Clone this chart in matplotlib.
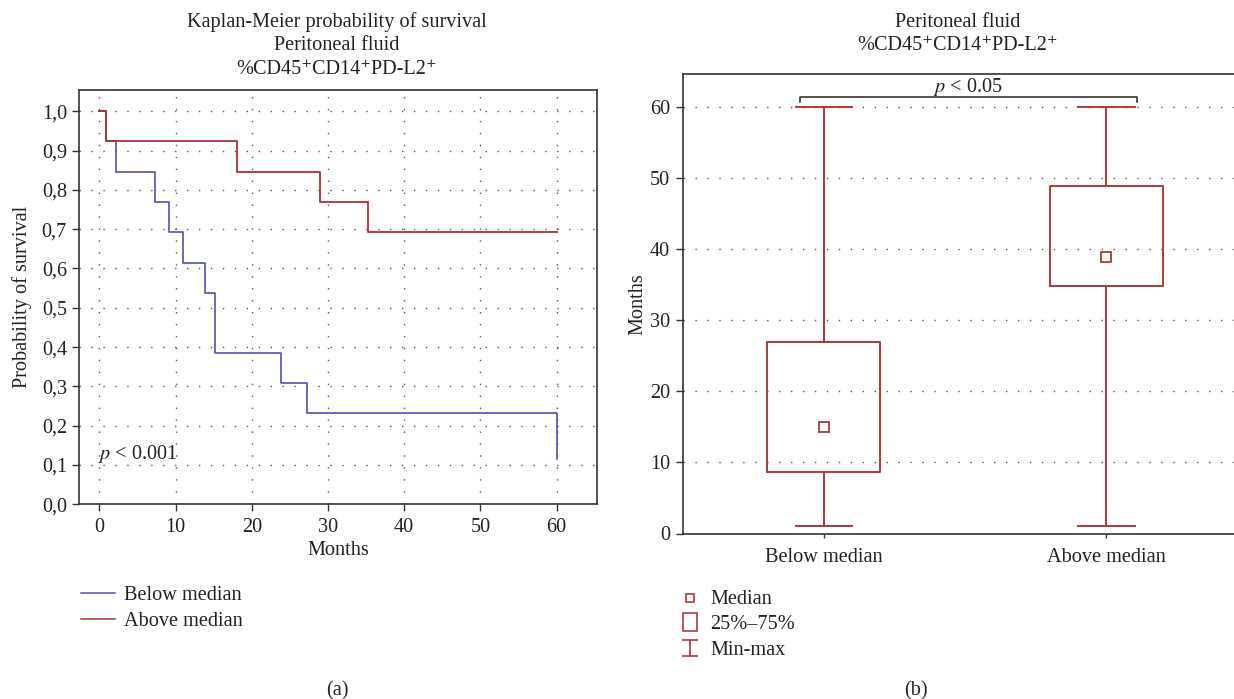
import matplotlib
matplotlib.use("Agg")
import matplotlib.pyplot as plt
from matplotlib.lines import Line2D
from matplotlib.patches import Rectangle
from matplotlib.path import Path

plt.rcParams['font.family'] = ['Liberation Serif', 'DejaVu Serif']
plt.rcParams['lines.scale_dashes'] = False
plt.rcParams['mathtext.fontset'] = 'stix'

# ---------------- data ----------------
km_title = ["Kaplan-Meier probability of survival", "Peritoneal fluid", "%CD45⁺CD14⁺PD-L2⁺"]
box_title = ["Peritoneal fluid", "%CD45⁺CD14⁺PD-L2⁺"]
groups = ["Below median", "Above median"]

time_below = [0, 0.84, 2.2, 7.3, 9.2, 11.0, 13.9, 15.2, 23.9, 27.3, 60]
surv_below = [1.0, 0.923, 0.846, 0.769, 0.692, 0.615, 0.538, 0.385, 0.308, 0.231, 0.115]
time_above = [0, 0.84, 18.0, 29.0, 35.2, 60]
surv_above = [1.0, 0.923, 0.846, 0.769, 0.692, 0.692]

km_xticks = [0, 10, 20, 30, 40, 50, 60]
km_yticks = [0.0, 0.1, 0.2, 0.3, 0.4, 0.5, 0.6, 0.7, 0.8, 0.9, 1.0]
km_yticklabels = ["0,0", "0,1", "0,2", "0,3", "0,4", "0,5", "0,6", "0,7", "0,8", "0,9", "1,0"]

box_min = [1, 1]
box_q1 = [8.7, 34.8]
box_med = [15, 39]
box_q3 = [27, 48.9]
box_max = [60, 60]
box_yticks = [0, 10, 20, 30, 40, 50, 60]

legend_box = ["Median", "25%–75%", "Min-max"]

# ---------------- style ----------------
BLUE = '#4d50b6'
RED = '#a83232'
BOXRED = '#b03a36'
SPINE = '#333333'
TXT = '#222222'
FS = 14.6
W, H = 1234, 699
DY = 2.5  # text vertical offset (px)

fig = plt.figure(figsize=(W / 100, H / 100), dpi=100)

def fx(px):
    return px / W

def fy(py):
    return 1 - py / H

dotted = dict(color='#555555', linestyle=(0, (1, 7.6)), linewidth=1.0)

# ---------------- left: Kaplan-Meier ----------------
ax1 = fig.add_axes([fx(79.5), fy(504.3), fx(597) - fx(79.5), fy(90) - fy(504.3)])
ax1.set_xlim(-2.6, 65.3)
ax1.set_ylim(0, 1.054)
ax1.set_xticks(km_xticks)
ax1.set_yticks(km_yticks)
ax1.set_yticklabels(km_yticklabels)
ax1.grid(True, **dotted)
ax1.set_axisbelow(True)
ax1.step(time_below, surv_below, where='post', color=BLUE, lw=1.2, zorder=3)
ax1.step(time_above, surv_above, where='post', color=RED, lw=1.3, zorder=4)
ax1.tick_params(direction='out', length=5, width=1.0, colors=SPINE, labelsize=FS,
                labelcolor=TXT)
ax1.tick_params(axis='x', pad=5)
ax1.tick_params(axis='y', pad=4)
for s in ax1.spines.values():
    s.set_color(SPINE)
    s.set_linewidth(1.2)
ax1.set_xlabel("Months", fontsize=FS, labelpad=3, color=TXT)
ax1.set_ylabel("Probability of survival", fontsize=FS, labelpad=7, color=TXT)
ax1.text(-0.2, 0.127, r"$p$ < 0.001", fontsize=FS, color=TXT, va='center', ha='left')

for i, line in enumerate(km_title):
    fig.text(fx(337), fy(20 + DY + 23.5 * i), line, ha='center', va='center', fontsize=FS,
             color=TXT)

# left legend
for i, (lab, col) in enumerate(zip(groups, [BLUE, RED])):
    y = 592.5 + 26.5 * i
    fig.add_artist(Line2D([fx(81), fx(115)], [fy(y), fy(y)], color=col, lw=1.1,
                          transform=fig.transFigure))
    fig.text(fx(124), fy(y + DY), lab, ha='left', va='center', fontsize=FS, color=TXT)

# ---------------- right: box plot ----------------
ax2 = fig.add_axes([fx(682.7), fy(533.5), fx(1247.5) - fx(682.7), fy(74) - fy(533.5)])
ax2.set_xlim(-0.5, 1.5)
ax2.set_ylim(0, 64.7)
stats = []
for i in range(len(groups)):
    stats.append(dict(med=box_med[i], q1=box_q1[i], q3=box_q3[i],
                      whislo=box_min[i], whishi=box_max[i], label=groups[i]))
lp = dict(color=BOXRED, linewidth=1.4)
ax2.bxp(stats, positions=[0, 1], widths=0.4, capwidths=0.2, showfliers=False,
        boxprops=lp, whiskerprops=lp, capprops=lp,
        medianprops=dict(linestyle='none'), manage_ticks=False, zorder=3)
ax2.plot([0, 1], box_med, linestyle='none', marker='s', markersize=6.5,
         markerfacecolor='white', markeredgecolor=BOXRED, markeredgewidth=1.3, zorder=4)
ax2.set_xticks([0, 1])
ax2.set_xticklabels(groups)
ax2.set_yticks(box_yticks)
ax2.yaxis.grid(True, **dotted)
ax2.set_axisbelow(True)
ax2.tick_params(axis='y', direction='out', length=5, width=1.0, colors=SPINE,
                labelsize=FS, labelcolor=TXT, pad=4)
ax2.tick_params(axis='x', direction='out', length=3, width=1.0, colors=SPINE,
                labelsize=FS, labelcolor=TXT, pad=7.5)
for s in ax2.spines.values():
    s.set_color(SPINE)
    s.set_linewidth(1.2)
ax2.set_ylabel("Months", fontsize=FS, labelpad=2, color=TXT)

# significance bracket
bx = [-0.086, -0.086, 1.109, 1.109]
by = [60.7, 61.5, 61.5, 60.7]
ax2.plot(bx, by, color='#333333', lw=1.2, zorder=5)
ax2.text(0.51, 62.9, r"$p$ < 0.05", ha='center', va='center', fontsize=FS, color=TXT)

for i, line in enumerate(box_title):
    fig.text(fx(958), fy(20 + DY + 23.5 * i), line, ha='center', va='center', fontsize=FS,
             color=TXT)

# right legend
ibeam = Path([(-1, 1), (1, 1), (0, 1), (0, -1), (-1, -1), (1, -1)],
             [Path.MOVETO, Path.LINETO, Path.MOVETO, Path.LINETO, Path.MOVETO, Path.LINETO])
ly = [597.5, 622, 648]
fig.add_artist(Line2D([fx(690)], [fy(ly[0])], marker='s', markersize=5.5, markerfacecolor='white',
                      markeredgecolor=BOXRED, markeredgewidth=1.2, linestyle='none',
                      transform=fig.transFigure))
fig.add_artist(Rectangle((fx(682.7), fy(630.5)), fx(14.6), fy(0) - fy(17.5), facecolor='white',
                         edgecolor=BOXRED, linewidth=1.2, transform=fig.transFigure))
fig.add_artist(Line2D([fx(690)], [fy(ly[2])], marker=ibeam, markersize=11,
                      markerfacecolor='none', markeredgecolor=BOXRED, markeredgewidth=1.2,
                      linestyle='none', transform=fig.transFigure))
for lab, y in zip(legend_box, ly):
    fig.text(fx(710), fy(y + DY), lab, ha='left', va='center', fontsize=FS, color=TXT)

fig.text(fx(337), fy(688 + DY), "(a)", ha='center', va='center', fontsize=FS, color=TXT)
fig.text(fx(916), fy(688 + DY), "(b)", ha='center', va='center', fontsize=FS, color=TXT)

fig.savefig("out.png", dpi=100)
